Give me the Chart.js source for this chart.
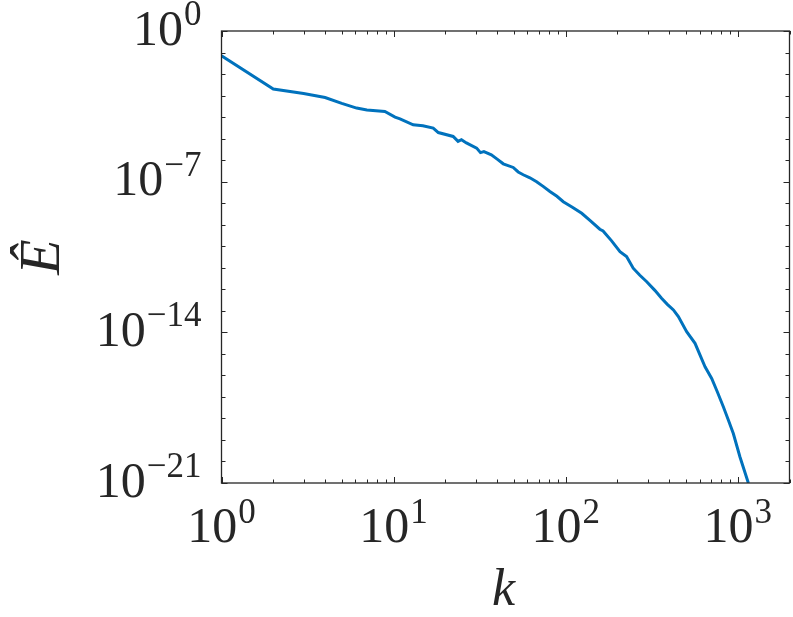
<!DOCTYPE html>
<html><head><meta charset="utf-8">
<script src="https://cdn.jsdelivr.net/npm/chart.js@4/dist/chart.umd.min.js"></script>
<style>html,body{margin:0;padding:0;background:#fff}#wrap{width:793px;height:617px;position:relative}</style>
</head><body><div id="wrap"><canvas id="c" width="793" height="617"></canvas></div>
<script>
// wavenumber k
const kValues = [1, 2, 3, 4, 5, 6.1, 7, 8.9, 10.2, 10.9, 13, 14.8, 17, 18.2, 22.2, 23.7, 24.8, 26.5, 30.4, 32, 33.5, 37, 40, 43.4, 49.6, 53, 56.7, 62, 67.8, 74, 81, 89, 96.9, 110, 124, 140, 158, 165, 185, 207, 226, 247, 270, 296, 330, 361, 390, 423, 452, 505, 565, 646, 706, 760, 825, 880, 943, 1031, 1153];
// spectrum E-hat
const energyValues = [7.08e-2, 2.00e-3, 1.26e-3, 8.13e-4, 4.37e-4, 2.63e-4, 2.14e-4, 1.82e-4, 1.00e-4, 8.32e-5, 4.37e-5, 3.98e-5, 3.09e-5, 1.91e-5, 1.26e-5, 7.41e-6, 8.91e-6, 6.31e-6, 3.63e-6, 2.24e-6, 2.51e-6, 1.78e-6, 1.12e-6, 6.76e-7, 4.57e-7, 2.82e-7, 2.09e-7, 1.51e-7, 1.00e-7, 6.03e-8, 3.47e-8, 2.09e-8, 1.17e-8, 6.31e-9, 3.39e-9, 1.48e-9, 6.17e-10, 5.13e-10, 1.78e-10, 5.62e-11, 3.31e-11, 9.55e-12, 4.47e-12, 2.24e-12, 8.91e-13, 3.80e-13, 2.00e-13, 1.10e-13, 5.37e-14, 1.07e-14, 3.09e-15, 2.51e-16, 7.24e-17, 1.78e-17, 3.47e-18, 8.91e-19, 2.00e-19, 1.62e-20, 1.00e-21];

const xLabelTicks = [1, 10, 100, 1000];
const xTickBase = ['10', '10', '10', '10'];
const xTickExponents = ['0', '1', '2', '3'];
const yLabelTicks = [1, 1e-7, 1e-14, 1e-21];
const yTickBase = ['10', '10', '10', '10'];
const yTickExponents = ['0', '\u22127', '\u221214', '\u221221'];
const xAxisTitle = 'k';
const yAxisTitle = '\u00CA';

const X_MIN = 1, X_MAX = 2000, Y_MIN = 1e-21, Y_MAX = 1;
const AXIS_COLOR = '#262626';
const LINE_COLOR = '#0072BD';
const FONT = '"Liberation Serif", "DejaVu Serif", serif';

const PLOT = {left: 221.5, top: 31, right: 789.5, bottom: 483};

function drawPow(ctx, base, exp, x, baseY, expY, align) {
  ctx.font = '50px ' + FONT;
  const wb = ctx.measureText(base).width;
  ctx.font = '35px ' + FONT;
  const we = ctx.measureText(exp).width;
  const gap = 1;
  const total = wb + gap + we;
  let x0 = align === 'right' ? x - total : x - total / 2;
  ctx.textAlign = 'left';
  ctx.textBaseline = 'alphabetic';
  ctx.font = '50px ' + FONT;
  ctx.fillText(base, x0, baseY);
  ctx.font = '35px ' + FONT;
  ctx.fillText(exp, x0 + wb + gap, expY);
}

const decor = {
  id: 'decor',
  afterDatasetsDraw(chart) {
    const ctx = chart.ctx;
    const a = chart.chartArea;
    const xs = chart.scales.x, ys = chart.scales.y;
    ctx.save();
    ctx.strokeStyle = AXIS_COLOR;
    ctx.lineWidth = 1.3;
    ctx.strokeRect(a.left, a.top, a.right - a.left, a.bottom - a.top);
    ctx.lineWidth = 1;
    ctx.beginPath();
    // x ticks (bottom and top, inward)
    for (let d = 1; d <= 1000; d *= 10) {
      for (let m = 1; m <= 9; m++) {
        const v = d * m;
        if (v < X_MIN || v > X_MAX) continue;
        const px = Math.round(xs.getPixelForValue(v)) + 0.5;
        const len = m === 1 ? 6 : 3.5;
        ctx.moveTo(px, a.bottom); ctx.lineTo(px, a.bottom - len);
        ctx.moveTo(px, a.top); ctx.lineTo(px, a.top + len);
      }
    }
    // y ticks every decade (left and right, inward)
    for (let e = -21; e <= 0; e++) {
      const py = Math.round(ys.getPixelForValue(Math.pow(10, e))) + 0.5;
      const len = (e % 7 === 0) ? 6 : 4;
      ctx.moveTo(a.left, py); ctx.lineTo(a.left + len, py);
      ctx.moveTo(a.right, py); ctx.lineTo(a.right - len, py);
    }
    ctx.stroke();

    ctx.fillStyle = AXIS_COLOR;
    // y tick labels
    yLabelTicks.forEach((v, i) => {
      const py = ys.getPixelForValue(v);
      drawPow(ctx, yTickBase[i], yTickExponents[i], a.left - 20, py + 13.5, py - 6, 'right');
    });
    // x tick labels
    xLabelTicks.forEach((v, i) => {
      const px = xs.getPixelForValue(v);
      drawPow(ctx, xTickBase[i], xTickExponents[i], px, a.bottom + 59, a.bottom + 40, 'center');
    });
    // axis titles
    ctx.font = 'italic 52px ' + FONT;
    ctx.textAlign = 'center';
    ctx.textBaseline = 'alphabetic';
    ctx.fillText(xAxisTitle, (a.left + a.right) / 2 - 2, 605);
    ctx.save();
    ctx.translate(59, (a.top + a.bottom) / 2);
    ctx.rotate(-Math.PI / 2);
    ctx.font = 'italic 58px ' + FONT;
    ctx.fillText(yAxisTitle, 0, 0);
    ctx.restore();
    ctx.restore();
  }
};

const points = kValues.map((k, i) => ({x: k, y: energyValues[i]}));

new Chart(document.getElementById('c'), {
  type: 'line',
  data: {
    datasets: [{
      data: points,
      borderColor: LINE_COLOR,
      borderWidth: 3,
      pointRadius: 0,
      tension: 0,
      fill: false
    }]
  },
  options: {
    responsive: false,
    animation: false,
    devicePixelRatio: 1,
    layout: {padding: {left: 0, top: PLOT.top, right: 793 - PLOT.right, bottom: 0}},
    plugins: {legend: {display: false}, tooltip: {enabled: false}},
    scales: {
      x: {
        type: 'logarithmic', min: X_MIN, max: X_MAX,
        ticks: {display: false}, grid: {display: false}, border: {display: false},
        afterFit: s => { s.height = 617 - PLOT.bottom; }
      },
      y: {
        type: 'logarithmic', min: Y_MIN, max: Y_MAX,
        ticks: {display: false}, grid: {display: false}, border: {display: false},
        afterFit: s => { s.width = PLOT.left; }
      }
    }
  },
  plugins: [decor]
});
</script>
</body></html>
